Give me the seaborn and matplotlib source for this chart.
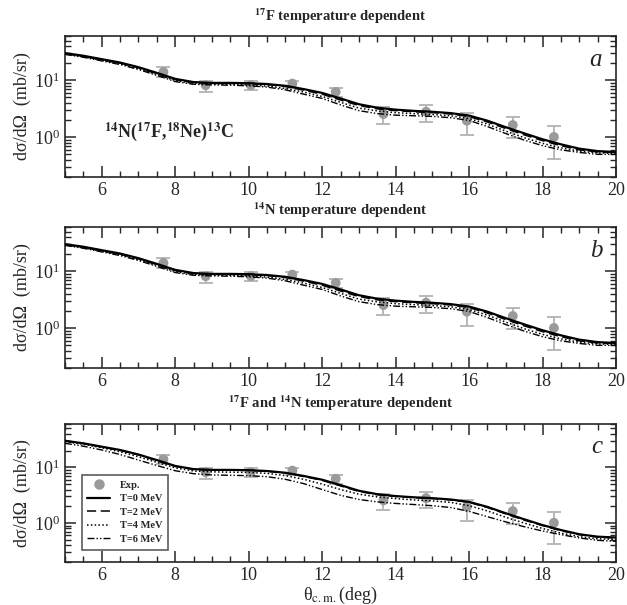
import numpy as np
import pandas as pd
import matplotlib
matplotlib.use("Agg")
import matplotlib.pyplot as plt
import seaborn as sns
from matplotlib.ticker import MultipleLocator, LogLocator, NullFormatter
from matplotlib.lines import Line2D

# ---------------- data ----------------
theta = [5, 5.5, 6, 6.5, 7, 7.5, 8, 8.5, 9, 9.5, 10, 10.5, 11, 11.5, 12, 12.5,
         13, 13.5, 14, 14.5, 15, 15.5, 16, 16.5, 17, 17.5, 18, 18.5, 19, 19.5, 20]

# panel a : 17F temperature dependent
a_T0 = [30, 27, 23.5, 20.5, 17, 13.5, 10.6, 9.3, 9.0, 9.0, 8.9, 8.6, 8.0, 7.0, 6.0, 4.8,
        3.8, 3.3, 3.05, 2.9, 2.8, 2.65, 2.4, 1.95, 1.5, 1.17, 0.92, 0.75, 0.63, 0.57, 0.55]
a_T2 = [29.6, 26.6, 23.1, 20.1, 16.6, 13.1, 10.3, 9.1, 8.8, 8.8, 8.7, 8.4, 7.8, 6.7, 5.7, 4.5,
        3.6, 3.15, 2.93, 2.8, 2.7, 2.56, 2.3, 1.85, 1.42, 1.1, 0.87, 0.71, 0.6, 0.55, 0.54]
a_T4 = [29, 26, 22.5, 19.5, 16, 12.7, 9.9, 8.8, 8.6, 8.5, 8.3, 7.9, 7.2, 6.2, 5.2, 4.1,
        3.25, 2.9, 2.7, 2.6, 2.5, 2.38, 2.13, 1.7, 1.28, 0.98, 0.78, 0.65, 0.57, 0.53, 0.52]
a_T6 = [28.5, 25.4, 21.9, 18.9, 15.5, 12.2, 9.5, 8.5, 8.3, 8.2, 8.0, 7.6, 6.8, 5.7, 4.8, 3.7,
        2.93, 2.6, 2.44, 2.38, 2.32, 2.2, 1.97, 1.54, 1.16, 0.89, 0.71, 0.6, 0.54, 0.5, 0.5]

# panel b : 14N temperature dependent
b_T0 = [30, 27, 23.5, 20.5, 17, 13.5, 10.6, 9.3, 9.0, 9.0, 8.9, 8.6, 8.0, 7.0, 6.0, 4.8,
        3.8, 3.3, 3.05, 2.9, 2.8, 2.65, 2.4, 1.95, 1.5, 1.17, 0.92, 0.75, 0.63, 0.57, 0.55]
b_T2 = [29.6, 26.6, 23.1, 20.1, 16.6, 13.1, 10.3, 9.1, 8.8, 8.8, 8.7, 8.4, 7.8, 6.7, 5.7, 4.5,
        3.6, 3.15, 2.93, 2.8, 2.7, 2.56, 2.3, 1.85, 1.42, 1.1, 0.87, 0.71, 0.6, 0.55, 0.54]
b_T4 = [29, 26, 22.5, 19.5, 16, 12.7, 9.9, 8.8, 8.6, 8.5, 8.3, 7.9, 7.2, 6.2, 5.2, 4.1,
        3.25, 2.9, 2.7, 2.6, 2.5, 2.38, 2.13, 1.7, 1.28, 0.98, 0.78, 0.65, 0.57, 0.53, 0.52]
b_T6 = [28.5, 25.4, 21.9, 18.9, 15.5, 12.2, 9.5, 8.5, 8.3, 8.2, 8.0, 7.6, 6.8, 5.7, 4.8, 3.7,
        2.93, 2.6, 2.44, 2.38, 2.32, 2.2, 1.97, 1.54, 1.16, 0.89, 0.71, 0.6, 0.54, 0.5, 0.5]

# panel c : 17F and 14N temperature dependent
c_T0 = [30, 27, 23.5, 20.5, 17, 13.5, 10.6, 9.3, 9.0, 9.0, 8.9, 8.6, 8.0, 7.0, 6.0, 4.8,
        3.8, 3.3, 3.05, 2.9, 2.8, 2.65, 2.4, 1.95, 1.5, 1.17, 0.92, 0.75, 0.63, 0.57, 0.55]
c_T2 = [29.8, 26.8, 23.2, 20.2, 16.7, 13.2, 10.4, 9.2, 8.9, 8.9, 8.8, 8.5, 7.9, 6.85, 5.85, 4.65,
        3.7, 3.22, 3.0, 2.85, 2.75, 2.6, 2.35, 1.9, 1.46, 1.13, 0.9, 0.73, 0.62, 0.56, 0.54]
c_T4 = [29, 26, 22.5, 19, 15.5, 12.3, 9.8, 8.6, 8.3, 8.2, 8.1, 7.8, 7.1, 6.1, 5.0, 4.0,
        3.3, 2.95, 2.75, 2.6, 2.5, 2.35, 2.05, 1.65, 1.27, 1.0, 0.8, 0.66, 0.57, 0.52, 0.51]
c_T6 = [27, 24, 20.5, 17, 13.5, 10.8, 8.7, 7.7, 7.3, 7.2, 7.1, 6.8, 6.1, 5.1, 4.0, 3.15,
        2.65, 2.4, 2.25, 2.15, 2.05, 1.9, 1.62, 1.3, 1.05, 0.86, 0.72, 0.62, 0.54, 0.49, 0.47]

# experimental data
exp_theta = [7.68, 8.83, 10.06, 11.19, 12.37, 13.67, 14.83, 15.94, 17.19, 18.31]
exp_val   = [14.0, 8.2, 8.2, 8.75, 6.25, 2.55, 2.8, 1.95, 1.64, 1.01]
exp_hi    = [17.0, 9.6, 9.7, 9.7, 7.4, 3.33, 3.66, 2.62, 2.29, 1.57]
exp_lo    = [11.4, 6.25, 6.7, 7.4, 5.1, 1.69, 1.85, 1.1, 0.95, 0.42]

legend_labels = ["Exp.", "T=0 MeV", "T=2 MeV", "T=4 MeV", "T=6 MeV"]
panel_titles = [r"$^{\mathbf{17}}$F temperature dependent",
                r"$^{\mathbf{14}}$N temperature dependent",
                r"$^{\mathbf{17}}$F and $^{\mathbf{14}}$N temperature dependent"]
panel_letters = ["a", "b", "c"]

# ---------------- style ----------------
sns.set_style("ticks")
plt.rcParams["font.family"] = ["Liberation Serif", "DejaVu Serif"]
plt.rcParams["mathtext.fontset"] = "stix"
plt.rcParams["axes.linewidth"] = 1.2

styles = [
    dict(linestyle="-", lw=1.6),
    dict(linestyle=(0, (6, 3)), lw=1.1),
    dict(linestyle=(0, (1, 1.5)), lw=1.1),
    dict(linestyle=(0, (5, 1.5, 1, 1.5, 1, 1.5)), lw=1.0),
]

fig = plt.figure(figsize=(6.27, 6.05), dpi=100)
W, H = 627, 605
boxes = [(36, 177), (227, 368), (424, 562)]
left, right = 65, 616

panels = [(a_T0, a_T2, a_T4, a_T6), (b_T0, b_T2, b_T4, b_T6), (c_T0, c_T2, c_T4, c_T6)]
title_y = [16, 210, 403]

exp_err = np.array([np.array(exp_val) - np.array(exp_lo), np.array(exp_hi) - np.array(exp_val)])

for i, (curves, (top, bot)) in enumerate(zip(panels, boxes)):
    ax = fig.add_axes([left / W, 1 - bot / H, (right - left) / W, (bot - top) / H])
    ax.set_yscale("log")
    ax.errorbar(exp_theta, exp_val, yerr=exp_err, fmt="none", ecolor="#b3b3b3",
                elinewidth=1.3, capsize=5, capthick=1.3, zorder=2)
    sns.scatterplot(x=exp_theta, y=exp_val, ax=ax, color="#9a9a9a", s=50,
                    edgecolor="none", zorder=3)
    for vals, st in zip(curves, styles):
        df = pd.DataFrame({"theta": theta, "xs": vals})
        sns.lineplot(data=df, x="theta", y="xs", ax=ax, color="black", zorder=4, **st)
    ax.set_xlim(5, 20)
    ax.set_ylim(0.2, 60)
    ax.xaxis.set_major_locator(MultipleLocator(2))
    ax.xaxis.set_minor_locator(MultipleLocator(0.5))
    ax.yaxis.set_major_locator(LogLocator(base=10, numticks=10))
    ax.yaxis.set_minor_locator(LogLocator(base=10, subs=np.arange(2, 10), numticks=20))
    ax.yaxis.set_minor_formatter(NullFormatter())
    ax.tick_params(which="both", direction="in", top=True, right=True, labelsize=13)
    ax.tick_params(which="major", length=8, width=1.1)
    ax.tick_params(which="minor", length=4.5, width=1.0)
    ax.set_xlabel("")
    ax.set_ylabel("dσ/dΩ  (mb/sr)", fontsize=13, labelpad=2)
    ax.text(0.975, 0.83, panel_letters[i], transform=ax.transAxes, fontsize=18,
            style="italic", ha="right", va="center")
    fig.text(0.5 * (left + right) / W, 1 - title_y[i] / H, panel_titles[i],
             fontsize=10.5, fontweight="bold", ha="center", va="center")
    if i == 0:
        ax.text(0.07, 0.32,
                r"$^{\mathbf{14}}$N($^{\mathbf{17}}$F,$^{\mathbf{18}}$Ne)$^{\mathbf{13}}$C",
                transform=ax.transAxes, fontsize=13, fontweight="bold",
                ha="left", va="center")
    if i == 2:
        ax.set_xlabel(r"θ$_{\mathrm{c.m.}}$(deg)", fontsize=13, labelpad=1)
        handles = [Line2D([], [], marker="o", color="#9a9a9a", linestyle="none",
                          markersize=6.5)]
        handles += [Line2D([], [], color="black", **st) for st in styles]
        leg = ax.legend(handles, legend_labels, loc="lower left",
                        bbox_to_anchor=(0.03, 0.09), frameon=True, fancybox=False,
                        edgecolor="#333333", prop={"weight": "bold", "size": 7.5},
                        handlelength=2.2, labelspacing=0.4, borderpad=0.55,
                        handletextpad=0.9, borderaxespad=0.0)
        leg.get_frame().set_linewidth(1.2)
    elif ax.get_legend() is not None:
        ax.get_legend().remove()

fig.savefig("out.png", dpi=100)
